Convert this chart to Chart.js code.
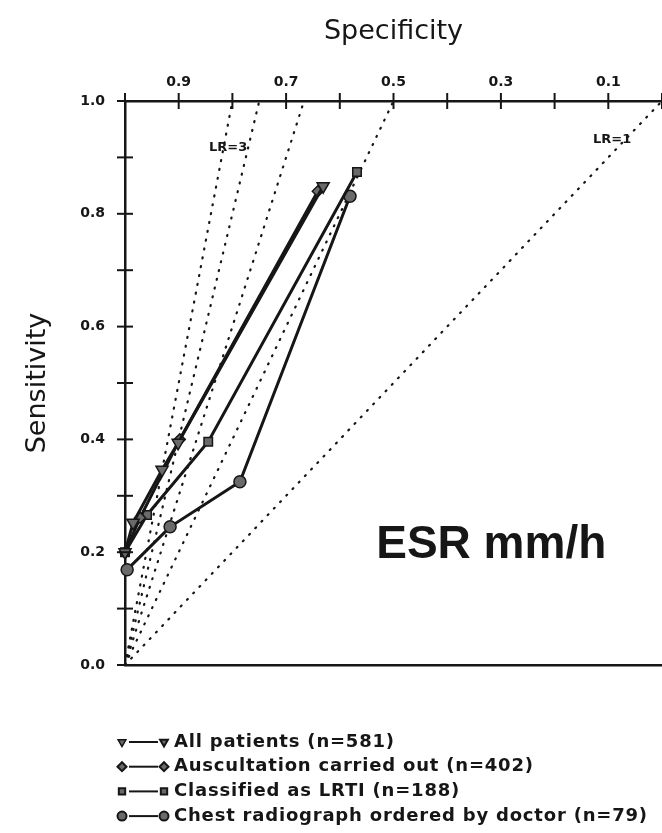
<!DOCTYPE html>
<html>
<head>
<meta charset="utf-8">
<script src="https://cdn.jsdelivr.net/npm/chart.js@4.4.1/dist/chart.umd.min.js"></script>
<style>
  html, body { margin: 0; padding: 0; background: #fff; }
  #wrap { width: 662px; height: 833px; position: relative; }
</style>
</head>
<body>
<div id="wrap"><canvas id="rocChart"></canvas></div>
<script>
'use strict';

// ROC points, specificity / sensitivity per ESR cut-off
const allSpec  = [1.0, 0.985, 0.931, 0.901, 0.631];
const allSens  = [0.20, 0.252, 0.346, 0.394, 0.849];
const auscSpec = [1.0, 0.972, 0.898, 0.641];
const auscSens = [0.20, 0.261, 0.400, 0.840];
const lrtiSpec = [1.0, 0.959, 0.845, 0.568];
const lrtiSens = [0.20, 0.266, 0.396, 0.874];
const cxrSpec  = [0.996, 0.916, 0.786, 0.581];
const cxrSens  = [0.169, 0.245, 0.325, 0.831];

// likelihood ratio reference lines through the origin
const lrValues = [5, 4, 3, 2, 1];

const seriesLabels = [
  'All patients (n=581)',
  'Auscultation carried out (n=402)',
  'Classified as LRTI (n=188)',
  'Chest radiograph ordered by doctor (n=79)'
];

const specTickLabels = ['0.9', '0.7', '0.5', '0.3', '0.1'];
const sensTickLabels = ['1.0', '0.8', '0.6', '0.4', '0.2', '0.0'];

// text placed inside the plot (specificity, sensitivity)
const noteTexts = ['LR=3', 'LR=1', 'ESR mm/h'];
const noteSpec  = [0.808, 0.093, 0.318];
const noteSens  = [0.917, 0.931, 0.213];

const ink = '#161616';
const markFill = '#6a6a6a';

function toPoints(spec, sens) {
  return spec.map((s, i) => ({ x: s, y: sens[i] }));
}

function seriesSet(label, spec, sens, style, radius, rotation) {
  return {
    label: label,
    data: toPoints(spec, sens),
    showLine: true,
    borderColor: ink,
    borderWidth: 3,
    backgroundColor: markFill,
    pointStyle: style,
    pointRadius: radius,
    pointRotation: rotation || 0,
    pointBackgroundColor: markFill,
    pointBorderColor: ink,
    pointBorderWidth: 1.5,
    clip: false
  };
}

const datasets = [
  seriesSet(seriesLabels[0], allSpec, allSens, 'triangle', 7, 180),
  seriesSet(seriesLabels[1], auscSpec, auscSens, 'rectRot', 5.5),
  seriesSet(seriesLabels[2], lrtiSpec, lrtiSens, 'rect', 6),
  seriesSet(seriesLabels[3], cxrSpec, cxrSens, 'circle', 6)
];

lrValues.forEach(lr => {
  datasets.push({
    label: 'LR=' + lr,
    data: [{ x: 1, y: 0 }, { x: 1 - 1 / lr, y: 1 }],
    showLine: true,
    borderColor: ink,
    borderWidth: 2.2,
    borderDash: [1, 8],
    borderCapStyle: 'round',
    pointRadius: 0,
    isRefLine: true
  });
});

// tick marks crossing the axes, as on the original plot
const crossTicks = {
  id: 'crossTicks',
  afterDraw(chart) {
    const { ctx, chartArea, scales } = chart;
    ctx.save();
    ctx.strokeStyle = ink;
    ctx.lineWidth = 2;
    scales.x.ticks.forEach(t => {
      const px = scales.x.getPixelForValue(t.value);
      ctx.beginPath();
      ctx.moveTo(px, chartArea.top - 8);
      ctx.lineTo(px, chartArea.top + 8);
      ctx.stroke();
    });
    scales.y.ticks.forEach(t => {
      const py = scales.y.getPixelForValue(t.value);
      ctx.beginPath();
      ctx.moveTo(chartArea.left - 8, py);
      ctx.lineTo(chartArea.left + 8, py);
      ctx.stroke();
    });
    ctx.restore();
  }
};

// in-plot notes: LR labels and the test name
const plotNotes = {
  id: 'plotNotes',
  afterDatasetsDraw(chart) {
    const { ctx, scales } = chart;
    ctx.save();
    ctx.fillStyle = ink;
    ctx.textAlign = 'center';
    ctx.textBaseline = 'middle';
    noteTexts.forEach((txt, i) => {
      ctx.font = i === 2 ? 'bold 46px "Liberation Sans"' : 'bold 13px "DejaVu Sans"';
      ctx.fillText(txt, scales.x.getPixelForValue(noteSpec[i]), scales.y.getPixelForValue(noteSens[i]));
    });
    ctx.restore();
  }
};

// legend drawn as "marker -- marker  label" rows under the plot
const rowLegend = {
  id: 'rowLegend',
  afterDraw(chart) {
    const { ctx } = chart;
    const rowTop = 742;
    const rowGap = 24.7;
    ctx.save();
    chart.data.datasets.forEach((ds, i) => {
      if (ds.isRefLine) return;
      const y = rowTop + i * rowGap;
      const opts = {
        pointStyle: ds.pointStyle,
        radius: 4.5,
        rotation: ds.pointRotation,
        borderWidth: 1.2
      };
      ctx.fillStyle = markFill;
      ctx.strokeStyle = ink;
      Chart.helpers.drawPoint(ctx, opts, 122, y);
      ctx.lineWidth = 2;
      ctx.beginPath();
      ctx.moveTo(129, y);
      ctx.lineTo(158, y);
      ctx.stroke();
      ctx.fillStyle = markFill;
      Chart.helpers.drawPoint(ctx, opts, 164, y);
      ctx.fillStyle = ink;
      ctx.font = 'bold 18px "DejaVu Sans"';
      ctx.letterSpacing = '0.8px';
      ctx.textAlign = 'left';
      ctx.textBaseline = 'middle';
      ctx.fillText(ds.label, 174, y);
      ctx.letterSpacing = '0px';
    });
    ctx.restore();
  }
};

const ctx = document.getElementById('rocChart').getContext('2d');
new Chart(ctx, {
  type: 'scatter',
  data: { datasets: datasets },
  plugins: [crossTicks, plotNotes, rowLegend],
  options: {
    responsive: true,
    maintainAspectRatio: false,
    animation: false,
    devicePixelRatio: 1,
    layout: { autoPadding: false, padding: { top: 8, right: 0, bottom: 168, left: 0 } },
    plugins: {
      legend: { display: false },
      tooltip: { enabled: false }
    },
    scales: {
      x: {
        type: 'linear',
        position: 'top',
        reverse: true,
        min: 0,
        max: 1,
        afterFit: s => { s.height = 93; s.paddingLeft = 0; s.paddingRight = 0; },
        ticks: {
          stepSize: 0.1,
          autoSkip: false,
          maxRotation: 0,
          padding: 10,
          color: ink,
          font: { family: 'DejaVu Sans', size: 14, weight: 'bold' },
          callback: v => {
            const s = Number(v).toFixed(1);
            return specTickLabels.includes(s) ? s : '';
          }
        },
        grid: { drawOnChartArea: false, drawTicks: false },
        border: { color: ink, width: 2.5 },
        title: {
          display: true,
          text: 'Specificity',
          color: ink,
          font: { family: 'DejaVu Sans', size: 27 },
          padding: { top: 8, bottom: 0 }
        }
      },
      xb: {
        type: 'linear',
        position: 'bottom',
        min: 0,
        max: 1,
        afterFit: s => { s.height = 0; s.paddingLeft = 0; s.paddingRight = 0; },
        ticks: { display: false },
        grid: { drawOnChartArea: false, drawTicks: false },
        border: { color: ink, width: 2.5 }
      },
      y: {
        type: 'linear',
        position: 'left',
        min: 0,
        max: 1,
        afterFit: s => { s.width = 125; },
        ticks: {
          stepSize: 0.1,
          autoSkip: false,
          padding: 20,
          color: ink,
          font: { family: 'DejaVu Sans', size: 14, weight: 'bold' },
          callback: v => {
            const s = Number(v).toFixed(1);
            return sensTickLabels.includes(s) ? s : '';
          }
        },
        grid: { drawOnChartArea: false, drawTicks: false },
        border: { color: ink, width: 2.5 },
        title: {
          display: true,
          text: 'Sensitivity',
          color: ink,
          font: { family: 'DejaVu Sans', size: 27 },
          padding: { top: 22, bottom: 0 }
        }
      }
    }
  }
});
</script>
</body>
</html>
